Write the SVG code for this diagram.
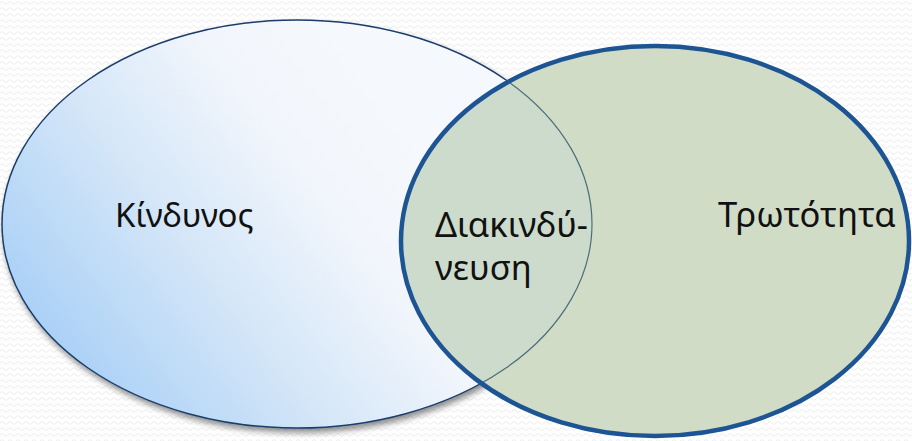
<svg xmlns="http://www.w3.org/2000/svg" width="912" height="441" viewBox="0 0 912 441">
<defs>
<pattern id="bg" width="8" height="6" patternUnits="userSpaceOnUse">
<path d="M0 3 Q2 0 4 3 T8 3" fill="none" stroke="#ececec" stroke-width="1"/>
</pattern>
<linearGradient id="lg" x1="0" y1="0.75" x2="0.75" y2="0.35">
<stop offset="0" stop-color="#a3cdf6"/>
<stop offset="0.45" stop-color="#d6e7f8"/>
<stop offset="0.75" stop-color="#f2f6fc"/>
<stop offset="1" stop-color="#f5f8fc"/>
</linearGradient>
<filter id="sh" x="-10%" y="-10%" width="120%" height="125%">
<feGaussianBlur in="SourceAlpha" stdDeviation="3"/>
<feOffset dx="2" dy="4" result="b"/>
<feComponentTransfer><feFuncA type="linear" slope="0.45"/></feComponentTransfer>
<feMerge><feMergeNode/><feMergeNode in="SourceGraphic"/></feMerge>
</filter>
<clipPath id="inR">
<ellipse cx="655" cy="241" rx="254" ry="195"/>
</clipPath>
</defs>
<style>
.t{font-family:"Noto Sans","DejaVu Sans",sans-serif;font-size:33px;fill:#111}
</style>
<rect width="912" height="441" fill="#ffffff"/>
<rect width="912" height="441" fill="url(#bg)"/>
<g id="kindynos">
<ellipse cx="297" cy="224" rx="295" ry="204" fill="url(#lg)" stroke="#1b3d6b" stroke-width="1.5" filter="url(#sh)"/>
<text class="t" x="115" y="227">Κίνδυνος</text>
</g>
<g id="trotota">
<ellipse cx="655" cy="241" rx="254" ry="195" fill="#d1dcc6" stroke="none"/>
<ellipse cx="297" cy="224" rx="295" ry="204" fill="#cddbcc" stroke="#4b6e7a" stroke-width="1.2" clip-path="url(#inR)"/>
<ellipse cx="655" cy="241" rx="254" ry="195" fill="none" stroke="#1d5493" stroke-width="4.5"/>
<text class="t" x="718" y="227" style="font-size:34.5px">Τρωτότητα</text>
</g>
<g id="diakindyneusi">
<text class="t" x="435" y="237" style="font-size:34.5px">Διακινδύ-</text>
<text class="t" x="435" y="280" style="font-size:34.5px">νευση</text>
</g>
<g id="connectors"/>
</svg>
